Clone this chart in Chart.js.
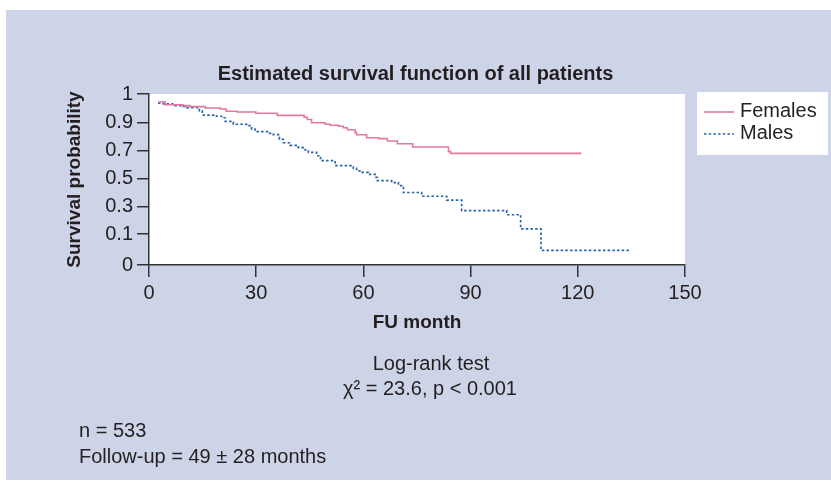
<!DOCTYPE html>
<html>
<head>
<meta charset="utf-8">
<script src="https://cdn.jsdelivr.net/npm/chart.js@4.4.1/dist/chart.umd.min.js"></script>
<style>
  html, body { margin: 0; padding: 0; background: #fff; }
  #wrap { width: 831px; height: 493px; position: relative; }
</style>
</head>
<body>
<div id="wrap"><canvas id="km"></canvas></div>
<script>
// Kaplan-Meier steps (month, survival on the printed axis)
const femaleMonths = [2.5, 4.5, 9.6, 11.5, 15.7, 19.9, 21.6, 24.7, 29.9, 35.9, 43.4, 44.3, 45.5, 49.3, 50.7, 53.0, 54.4, 55.5, 57.7, 58.1, 60.9, 64.2, 66.7, 69.5, 73.8, 83.8, 84.4, 121.0];
const femaleSurv   = [0.953, 0.937, 0.932, 0.926, 0.918, 0.912, 0.899, 0.895, 0.887, 0.875, 0.864, 0.851, 0.832, 0.823, 0.817, 0.811, 0.803, 0.791, 0.774, 0.762, 0.744, 0.739, 0.725, 0.709, 0.690, 0.663, 0.653, 0.653];

const maleMonths = [2.5, 4.0, 6.6, 9.6, 10.5, 14.1, 14.9, 18.9, 20.3, 21.3, 23.6, 27.3, 28.7, 29.7, 33.4, 34.8, 36.5, 37.6, 39.5, 41.8, 43.7, 44.6, 46.9, 48.0, 52.1, 57.2, 58.1, 59.0, 61.4, 63.3, 63.9, 67.9, 69.8, 71.2, 76.3, 83.3, 87.5, 100.1, 104.0, 109.7, 134.5];
const maleSurv   = [0.946, 0.942, 0.932, 0.928, 0.920, 0.901, 0.877, 0.870, 0.861, 0.840, 0.823, 0.815, 0.795, 0.780, 0.770, 0.762, 0.735, 0.715, 0.700, 0.686, 0.673, 0.659, 0.639, 0.610, 0.581, 0.565, 0.551, 0.542, 0.530, 0.513, 0.493, 0.482, 0.464, 0.424, 0.402, 0.379, 0.318, 0.294, 0.211, 0.085, 0.085];

const xTicks = [0, 30, 60, 90, 120, 150];
// the printed y axis is not evenly scaled: its labels sit at these places
const yTickLabels = ['0', '0.1', '0.3', '0.5', '0.7', '0.9', '1'];
const yTickPos    = [0, 0.18, 0.341, 0.505, 0.668, 0.832, 1];

const FONT = '"Liberation Sans", Arial, Helvetica, sans-serif';
const INK = '#231f20';
const PINK = '#e07aa0';
const BLUE = '#2a64ab';

function toPoints(xs, ys) {
    return xs.map((m, i) => ({ x: m, y: ys[i] }));
}

const panel = {
    id: 'panel',
    beforeDraw(chart) {
        const { ctx, chartArea: a } = chart;
        ctx.save();
        ctx.fillStyle = '#fff';
        ctx.fillRect(0, 0, chart.width, chart.height);
        ctx.fillStyle = '#ced4e8'; // lavender frame
        ctx.fillRect(6, 10, chart.width - 6, 470);
        ctx.fillStyle = '#fff';
        ctx.fillRect(a.left, a.top, a.right - a.left, a.bottom - a.top);
        ctx.restore();
    },
    afterDraw(chart) {
        const ctx = chart.ctx;
        const sets = chart.data.datasets;
        ctx.save();
        // legend box
        ctx.fillStyle = '#fff';
        ctx.fillRect(697, 92, 131, 63);
        [112, 134].forEach((y, i) => {
            ctx.beginPath();
            ctx.strokeStyle = sets[i].borderColor;
            ctx.lineWidth = sets[i].borderWidth;
            ctx.setLineDash(sets[i].borderDash || []);
            ctx.moveTo(704, y);
            ctx.lineTo(734, y);
            ctx.stroke();
            ctx.setLineDash([]);
            ctx.fillStyle = INK;
            ctx.font = '20px ' + FONT;
            ctx.textAlign = 'left';
            ctx.textBaseline = 'middle';
            ctx.fillText(sets[i].label, 740, y - 1);
        });
        // test result and sample notes
        ctx.fillStyle = INK;
        ctx.font = '20px ' + FONT;
        ctx.textBaseline = 'middle';
        ctx.textAlign = 'center';
        ctx.fillText('Log-rank test', 431, 364);
        ctx.fillText('χ² = 23.6, p < 0.001', 430, 389);
        ctx.textAlign = 'left';
        ctx.fillText('n = 533', 79, 431);
        ctx.fillText('Follow-up = 49 ± 28 months', 79, 457);
        ctx.restore();
    }
};

new Chart(document.getElementById('km'), {
    type: 'line',
    data: {
        datasets: [{
            label: 'Females',
            data: toPoints(femaleMonths, femaleSurv),
            borderColor: PINK,
            borderWidth: 1.6,
            stepped: true,
            pointRadius: 0,
            fill: false
        }, {
            label: 'Males',
            data: toPoints(maleMonths, maleSurv),
            borderColor: BLUE,
            borderWidth: 1.7,
            borderDash: [2.5, 2.2],
            stepped: true,
            pointRadius: 0,
            fill: false
        }]
    },
    options: {
        responsive: true,
        maintainAspectRatio: false,
        animation: false,
        layout: { padding: { left: 0, top: 0, right: 0, bottom: 153 } },
        scales: {
            x: {
                type: 'linear',
                min: 0,
                max: 150,
                afterBuildTicks: s => { s.ticks = xTicks.map(v => ({ value: v })); },
                afterFit: s => { s.height = 75; },
                grid: { drawOnChartArea: false, drawTicks: true, tickLength: 12, color: '#333', lineWidth: 1.5 },
                border: { display: true, color: '#333', width: 1.5 },
                ticks: { color: INK, font: { family: FONT, size: 20 }, padding: 4, maxRotation: 0, autoSkip: false },
                title: { display: true, text: 'FU month', color: INK, font: { family: FONT, size: 19, weight: 'bold' }, padding: { top: 0, bottom: 6 } }
            },
            y: {
                min: 0,
                max: 1,
                afterBuildTicks: s => { s.ticks = yTickPos.map(v => ({ value: v })); },
                afterFit: s => { s.width = 149; },
                grid: { drawOnChartArea: false, drawTicks: true, tickLength: 12, color: '#333', lineWidth: 1.5 },
                border: { display: true, color: '#333', width: 1.5 },
                ticks: {
                    color: INK,
                    font: { family: FONT, size: 20 },
                    padding: 4,
                    autoSkip: false,
                    callback: (v, i) => yTickLabels[i]
                },
                title: { display: true, text: 'Survival probability', color: INK, font: { family: FONT, size: 19, weight: 'bold' }, padding: { top: 63, bottom: 0 } }
            },
            // empty right-hand column that keeps room for the legend
            pad: {
                type: 'linear',
                position: 'right',
                grid: { display: false },
                border: { display: false },
                ticks: { display: false },
                afterFit: s => { s.width = 146; }
            }
        },
        plugins: {
            legend: { display: false },
            tooltip: { enabled: false },
            title: {
                display: true,
                text: 'Estimated survival function of all patients',
                color: INK,
                font: { family: FONT, size: 20, weight: 'bold' },
                padding: { top: 62, bottom: 8 }
            }
        }
    },
    plugins: [panel]
});
</script>
</body>
</html>
